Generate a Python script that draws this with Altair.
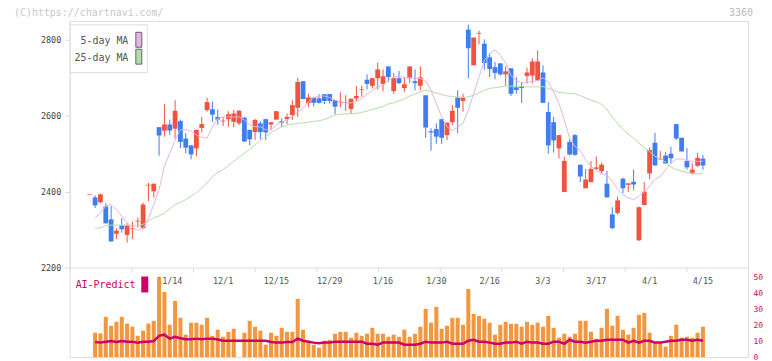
import altair as alt
import pandas as pd

# ---------------- data ----------------
candle_start = -15          # trading-day index of the first candle (11/14 = 0)
opens = [2392, 2385, 2372, 2361, 2327, 2289, 2311, 2286, 2303, 2322,
         2304, 2417, 2401, 2570, 2561, 2577, 2566, 2586, 2540, 2522,
         2514, 2568, 2615, 2617, 2597, 2586, 2591, 2584, 2580, 2595,
         2563, 2557, 2580, 2591, 2577, 2590, 2586, 2591, 2602, 2621,
         2691, 2634, 2648, 2646, 2657, 2657, 2641, 2636, 2635, 2618,
         2646, 2669, 2695, 2679, 2699, 2684, 2730, 2665, 2699, 2673,
         2699, 2691, 2679, 2654, 2559, 2565, 2591, 2549, 2583, 2648,
         2639, 2827, 2733, 2817, 2790, 2754, 2728, 2738, 2709, 2725,
         2675, 2678, 2705, 2706, 2693, 2714, 2610, 2583, 2514, 2399,
         2531, 2549, 2471, 2409, 2425, 2460, 2454, 2421, 2340, 2344,
         2434, 2418, 2426, 2272, 2365, 2448, 2529, 2486, 2495, 2500,
         2578, 2542, 2481, 2448, 2468, 2487]
highs = [2392, 2390, 2395, 2369, 2362, 2303, 2330, 2317, 2321, 2331,
         2371, 2423, 2421, 2570, 2631, 2590, 2641, 2590, 2554, 2522,
         2563, 2597, 2648, 2637, 2617, 2597, 2612, 2615, 2615, 2597,
         2563, 2592, 2586, 2591, 2583, 2612, 2593, 2606, 2641, 2700,
         2691, 2658, 2648, 2657, 2657, 2657, 2641, 2662, 2654, 2645,
         2678, 2679, 2709, 2699, 2740, 2722, 2730, 2713, 2718, 2702,
         2730, 2722, 2730, 2654, 2567, 2580, 2591, 2582, 2628, 2667,
         2658, 2840, 2806, 2824, 2801, 2765, 2742, 2738, 2730, 2725,
         2702, 2688, 2727, 2752, 2772, 2733, 2636, 2597, 2549, 2492,
         2538, 2552, 2471, 2460, 2481, 2493, 2477, 2455, 2359, 2387,
         2437, 2422, 2458, 2361, 2425, 2516, 2555, 2507, 2504, 2518,
         2578, 2542, 2515, 2475, 2502, 2497]
lows = [2392, 2357, 2369, 2315, 2268, 2275, 2292, 2266, 2275, 2305,
        2301, 2375, 2385, 2495, 2545, 2549, 2539, 2515, 2501, 2485,
        2493, 2556, 2611, 2584, 2576, 2573, 2571, 2570, 2576, 2532,
        2522, 2536, 2538, 2536, 2563, 2589, 2571, 2578, 2589, 2597,
        2644, 2622, 2624, 2632, 2631, 2632, 2604, 2622, 2613, 2604,
        2639, 2650, 2669, 2672, 2669, 2665, 2689, 2658, 2684, 2663,
        2686, 2667, 2667, 2542, 2508, 2526, 2526, 2536, 2575, 2554,
        2611, 2699, 2733, 2788, 2721, 2702, 2696, 2706, 2679, 2652,
        2658, 2634, 2685, 2685, 2693, 2634, 2500, 2503, 2488, 2399,
        2495, 2495, 2425, 2409, 2425, 2458, 2447, 2385, 2301, 2340,
        2396, 2399, 2404, 2270, 2365, 2433, 2469, 2484, 2474, 2474,
        2536, 2506, 2458, 2445, 2466, 2458]
closes = [2392, 2364, 2393, 2317, 2269, 2297, 2301, 2311, 2303, 2322,
          2366, 2417, 2421, 2548, 2577, 2561, 2613, 2531, 2516, 2498,
          2563, 2578, 2636, 2603, 2590, 2586, 2604, 2606, 2613, 2532,
          2538, 2589, 2557, 2556, 2583, 2612, 2582, 2597, 2628, 2689,
          2644, 2648, 2634, 2634, 2639, 2639, 2624, 2636, 2635, 2645,
          2652, 2669, 2684, 2699, 2722, 2704, 2702, 2699, 2686, 2683,
          2730, 2686, 2701, 2569, 2557, 2545, 2542, 2582, 2613, 2621,
          2647, 2778, 2806, 2817, 2739, 2723, 2713, 2709, 2717, 2658,
          2668, 2673, 2714, 2743, 2743, 2634, 2522, 2535, 2549, 2481,
          2498, 2497, 2440, 2432, 2460, 2464, 2471, 2385, 2304, 2377,
          2409, 2422, 2419, 2359, 2400, 2510, 2469, 2486, 2474, 2488,
          2540, 2506, 2464, 2458, 2489, 2469]

series_start = -14          # moving averages, volume and AI-Predict start one day later
ma5 = [2331, 2344, 2362, 2366, 2353, 2336, 2318, 2305, 2298, 2303,
       2329, 2366, 2406, 2467, 2501, 2536, 2563, 2564, 2560, 2549,
       2543, 2541, 2571, 2593, 2597, 2597, 2597, 2597, 2589, 2576,
       2571, 2571, 2563, 2563, 2576, 2584, 2589, 2597, 2610, 2619,
       2637, 2648, 2652, 2652, 2648, 2641, 2637, 2634, 2634, 2637,
       2645, 2657, 2667, 2676, 2680, 2693, 2702, 2704, 2700, 2700,
       2698, 2698, 2692, 2667, 2632, 2597, 2571, 2561, 2570, 2580,
       2615, 2658, 2702, 2746, 2763, 2774, 2759, 2739, 2706, 2693,
       2687, 2687, 2691, 2692, 2700, 2689, 2663, 2632, 2589, 2541,
       2519, 2508, 2484, 2467, 2456, 2447, 2444, 2427, 2407, 2392,
       2384, 2379, 2388, 2399, 2414, 2432, 2440, 2458, 2475, 2486,
       2486, 2482, 2480, 2480, 2480]
ma25 = [2303, 2305, 2311, 2312, 2312, 2312, 2312, 2311, 2310, 2314,
        2323, 2331, 2336, 2344, 2355, 2366, 2372, 2379, 2388, 2397,
        2410, 2423, 2440, 2451, 2458, 2469, 2480, 2491, 2501, 2512,
        2523, 2535, 2545, 2556, 2564, 2571, 2576, 2578, 2580, 2581,
        2583, 2585, 2587, 2590, 2596, 2602, 2604, 2605, 2606, 2606,
        2609, 2612, 2617, 2620, 2624, 2631, 2634, 2639, 2645, 2652,
        2657, 2663, 2667, 2665, 2660, 2656, 2652, 2651, 2649, 2648,
        2650, 2654, 2660, 2667, 2672, 2674, 2676, 2678, 2678, 2678,
        2677, 2676, 2676, 2676, 2677, 2672, 2667, 2662, 2660, 2659,
        2658, 2653, 2647, 2641, 2637, 2630, 2617, 2596, 2580, 2564,
        2552, 2541, 2528, 2516, 2506, 2493, 2488, 2477, 2465, 2458,
        2454, 2451, 2449, 2447, 2447]
volume = [15.3, 14.9, 25.3, 19.7, 22.2, 25.3, 21.1, 19.1, 13.4, 16.6,
          21.1, 22.8, 49.9, 40.9, 20.3, 35.3, 24.7, 14.1, 21.6, 21.6,
          20.3, 24.7, 13.4, 17.2, 12.8, 15.9, 17.8, 0.0, 15.3, 22.8,
          19.1, 16.6, 7.8, 15.3, 13.4, 18.4, 15.9, 15.9, 36.6, 17.2,
          10.3, 7.8, 5.9, 10.3, 10.9, 14.7, 15.9, 15.9, 12.2, 15.3,
          13.4, 14.7, 18.4, 14.7, 14.7, 12.8, 14.1, 12.8, 17.2, 12.8,
          14.7, 19.1, 30.3, 21.6, 31.6, 17.8, 19.7, 24.7, 24.7, 20.3,
          42.8, 27.2, 25.9, 24.1, 21.6, 14.1, 20.3, 22.2, 20.9, 20.9,
          19.1, 22.2, 20.3, 21.6, 19.1, 25.9, 18.4, 12.2, 14.7, 12.8,
          14.7, 22.8, 22.8, 15.9, 11.6, 18.4, 30.3, 19.7, 25.9, 17.2,
          14.1, 18.4, 26.6, 27.8, 15.3, 9.1, 9.1, 6.6, 13.4, 20.3,
          12.2, 12.8, 12.2, 15.3, 19.1]
ai_predict = [9.5, 9.1, 9.7, 10.1, 9.5, 10.1, 9.7, 9.7, 9.1, 9.7,
              9.7, 10.1, 13.4, 14.1, 11.6, 12.7, 11.8, 11.2, 11.2, 11.6,
              11.2, 11.6, 11.6, 11.0, 10.3, 10.3, 10.3, 10.3, 10.3, 10.3,
              10.3, 10.3, 10.3, 9.5, 9.1, 9.1, 9.5, 9.5, 11.6, 10.3,
              9.7, 9.1, 8.7, 9.1, 9.1, 9.7, 9.7, 9.7, 9.7, 9.7,
              9.7, 8.4, 8.4, 7.8, 9.1, 9.1, 9.1, 9.1, 7.8, 7.8,
              7.8, 8.4, 9.7, 9.1, 9.1, 9.1, 9.7, 8.4, 8.4, 8.4,
              10.3, 10.9, 9.7, 9.7, 9.1, 8.4, 8.4, 9.1, 9.1, 9.7,
              8.4, 9.7, 9.1, 9.1, 8.4, 8.4, 9.7, 9.7, 8.4, 10.9,
              9.7, 9.7, 9.1, 9.7, 10.3, 10.3, 10.9, 10.9, 10.9, 10.9,
              9.1, 10.3, 9.1, 10.3, 10.3, 9.1, 9.1, 9.7, 10.3, 10.3,
              10.9, 10.9, 10.3, 10.9, 10.3]

date_labels = ["11/14", "12/1", "12/15", "12/29", "1/16", "1/30",
               "2/16", "3/3", "3/17", "4/1", "4/15"]
date_label_index = [0, 10, 20, 30, 40, 50, 60, 70, 80, 90, 100]
price_ticks = [2200, 2400, 2600, 2800]
volume_ticks = [0, 10, 20, 30, 40, 50]
ma_names = ["5-day MA", "25-day MA"]
ai_name = "AI-Predict"
watermark = "(C)https://chartnavi.com/"
code_label = "3360"

# ---------------- frames ----------------
n = len(opens)
assert len(highs) == n and len(lows) == n and len(closes) == n
m = len(ma5)
assert len(ma25) == m and len(volume) == m and len(ai_predict) == m

candles = pd.DataFrame({
    "i": list(range(candle_start, candle_start + n)),
    "open": opens, "high": highs, "low": lows, "close": closes,
})
candles["dir"] = ["up" if c >= o else "down" for o, c in zip(opens, closes)]
candles["x0"] = candles["i"] - 0.45
candles["x1"] = candles["i"] + 0.45
candles["doji"] = (candles["close"] - candles["open"]).abs() < 3

series = pd.DataFrame({
    "i": list(range(series_start, series_start + m)),
    "ma5": ma5, "ma25": ma25, "vol": volume, "ai": ai_predict,
})
series["x0"] = series["i"] - 0.38
series["x1"] = series["i"] + 0.38
series["base"] = 0.0

dates = pd.DataFrame({"i": date_label_index, "label": date_labels})

# ---------------- style / layout ----------------
MONO = "DejaVu Sans Mono"
RED = "#f25341"
BLUE = "#3f7ef0"
PINK = "#e6b3e6"
GREEN = "#b5dca8"
ORANGE = "#f29740"
MAGENTA = "#cc0066"
GRID = "#dddddd"

PLOT_W = 682
TOTAL_H = 338
PRICE_H = 248
X_DOMAIN = [-18.77, 108.47]

xs = alt.Scale(domain=X_DOMAIN, nice=False, zero=False)
price_scale = alt.Scale(domain=[2200, 2850], range=[PRICE_H, 0], nice=False, zero=False)
vol_scale = alt.Scale(domain=[0, 50], range=[TOTAL_H, TOTAL_H - 80], nice=False)

x_tick_values = [X_DOMAIN[0] + k * (X_DOMAIN[1] - X_DOMAIN[0]) / 11 for k in range(12)]
x_axis = alt.Axis(values=x_tick_values, labels=False, ticks=True, tickSize=4,
                  tickColor=GRID, domainColor=GRID, grid=False, title=None,
                  orient="bottom", offset=-(TOTAL_H - PRICE_H))
price_axis = alt.Axis(values=price_ticks, orient="left", tickSize=5, tickColor=GRID,
                      domainColor=GRID, labelColor="#444444", labelFont=MONO,
                      labelFontSize=8.5, labelPadding=4, grid=False, title=None, format="d")
vol_axis = alt.Axis(values=volume_ticks, orient="right", domain=False, domainOpacity=0,
                    ticks=False, labelColor=MAGENTA, labelFont=MONO, labelFontSize=8,
                    labelPadding=5, grid=False, title=None)


def X(field):
    return alt.X(field, type="quantitative", scale=xs, axis=x_axis)


def PY(field):
    return alt.Y(field, type="quantitative", scale=price_scale, axis=price_axis)


def VY(field):
    return alt.Y(field, type="quantitative", scale=vol_scale, axis=vol_axis)


dir_color = alt.Color("dir:N", scale=alt.Scale(domain=["up", "down"], range=[RED, BLUE]),
                      legend=None)

cbase = alt.Chart(candles)
wicks = cbase.mark_rule(strokeWidth=1).encode(x=X("i"), y=PY("low"), y2="high:Q", color=dir_color)
bodies = cbase.mark_rect().encode(x=X("x0"), x2="x1:Q", y=PY("open"), y2="close:Q", color=dir_color)
dojis = cbase.transform_filter("datum.doji").mark_tick(
    orient="horizontal", thickness=1, size=5).encode(x=X("i"), y=PY("close"), color=dir_color)
ma5_line = alt.Chart(series).mark_line(color=PINK, strokeWidth=1).encode(x=X("i"), y=PY("ma5"))
ma25_line = alt.Chart(series).mark_line(color=GREEN, strokeWidth=1).encode(x=X("i"), y=PY("ma25"))
price_group = alt.layer(wicks, bodies, dojis, ma25_line, ma5_line)

date_text = alt.Chart(dates).mark_text(font=MONO, fontSize=8.5, color="#555555",
                                       baseline="middle", align="center").encode(
    x=X("i"), y=alt.value(262), text="label:N")
vol_bars = alt.Chart(series).mark_rect(color=ORANGE).encode(
    x=X("x0"), x2="x1:Q", y=VY("vol"), y2="base:Q")
ai_line = alt.Chart(series).mark_line(color=MAGENTA, strokeWidth=2.5).encode(x=X("i"), y=VY("ai"))
volume_group = alt.layer(date_text, vol_bars, ai_line)

one = pd.DataFrame({"k": [0]})
legend_box = alt.Chart(one).mark_rect(fill="white", stroke=GRID, strokeWidth=1).encode(
    x=alt.value(0.5), x2=alt.value(78), y=alt.value(4), y2=alt.value(52))
leg1_text = alt.Chart(pd.DataFrame({"t": [ma_names[0]]})).mark_text(
    font=MONO, fontSize=10, color="#555555", align="right", baseline="middle").encode(
    x=alt.value(59), y=alt.value(20.5), text="t:N")
leg2_text = alt.Chart(pd.DataFrame({"t": [ma_names[1]]})).mark_text(
    font=MONO, fontSize=10, color="#555555", align="right", baseline="middle").encode(
    x=alt.value(59), y=alt.value(37), text="t:N")
leg1_sw = alt.Chart(one).mark_rect(fill=PINK, stroke="#666666", strokeWidth=1).encode(
    x=alt.value(66.5), x2=alt.value(72.5), y=alt.value(11.5), y2=alt.value(26.5))
leg2_sw = alt.Chart(one).mark_rect(fill=GREEN, stroke="#666666", strokeWidth=1).encode(
    x=alt.value(66.5), x2=alt.value(72.5), y=alt.value(28.5), y2=alt.value(43.5))
ai_text = alt.Chart(pd.DataFrame({"t": [ai_name]})).mark_text(
    font=MONO, fontSize=10, color=MAGENTA, align="left", baseline="middle").encode(
    x=alt.value(6), y=alt.value(266), text="t:N")
ai_sw = alt.Chart(one).mark_rect(fill=MAGENTA).encode(
    x=alt.value(72), x2=alt.value(79), y=alt.value(257), y2=alt.value(273))
wm_text = alt.Chart(pd.DataFrame({"t": [watermark]})).mark_text(
    font=MONO, fontSize=10, color="#c8c8c8", align="left", baseline="middle").encode(
    x=alt.value(-56), y=alt.value(-8), text="t:N")
code_text = alt.Chart(pd.DataFrame({"t": [code_label]})).mark_text(
    font=MONO, fontSize=10, color="#bbbbbb", align="right", baseline="middle").encode(
    x=alt.value(687), y=alt.value(-8), text="t:N")

chart = alt.layer(
    price_group, volume_group, legend_box, leg1_text, leg2_text, leg1_sw, leg2_sw,
    ai_text, ai_sw, wm_text, code_text,
).resolve_scale(y="independent").properties(
    width=PLOT_W, height=TOTAL_H,
    padding={"left": 62, "top": 12, "right": 16, "bottom": 8},
    autosize=alt.AutoSizeParams(type="none"),
).configure_view(strokeWidth=0).configure(background="white")

chart.save("out.html", embed_options={"renderer": "svg", "actions": False})
